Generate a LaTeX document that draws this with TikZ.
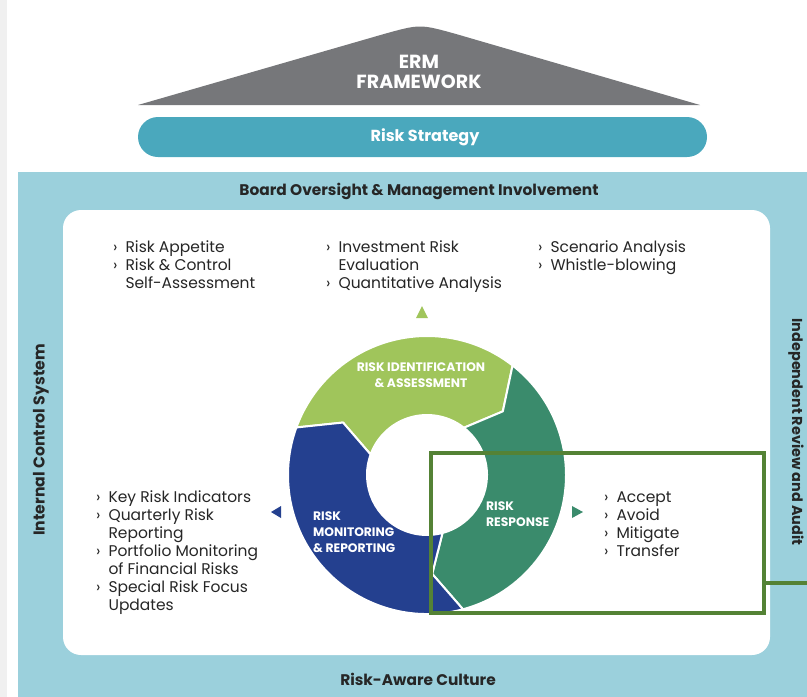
\documentclass[tikz,border=0pt]{standalone}
\usepackage{fontspec}
\setmainfont{Poppins}
\usepackage{tikz}
\usetikzlibrary{positioning, arrows.meta,calc}
\definecolor{roofgray}{HTML}{76777A}
\definecolor{stratteal}{HTML}{4AA8BD}
\definecolor{panelblue}{HTML}{9BD0DC}
\definecolor{ringgreen}{HTML}{A0C55B}
\definecolor{ringteal}{HTML}{3A8B6C}
\definecolor{ringblue}{HTML}{24408F}
\definecolor{boxgreen}{HTML}{548235}
\definecolor{txtdark}{HTML}{262626}
\newcommand{\bul}{›}

\begin{document}
\begin{tikzpicture}[x=1pt, y=-1pt, >=stealth,
		heading/.style={font=\fontsize{15.4}{18}\selectfont\bfseries, text=txtdark, inner sep=0pt},
		listtext/.style={font=\fontsize{15.5}{18}\selectfont, text=txtdark, inner sep=0pt, anchor=north west},
		ringlabel/.style={font=\fontsize{12.3}{16}\selectfont\bfseries, text=white, inner sep=0pt, align=left}]
		
		\useasboundingbox (0,0) rectangle (807,697);
		\fill[black!6] (0,0) rectangle (7,697);
		
		% Draw roof and strategy bar
		\fill[roofgray] (138,105) -- (384,34) .. controls (420,24) .. (456,34) -- (700,105) -- cycle;
		\node[font=\fontsize{19}{20}\selectfont\bfseries, text=white, align=center, inner sep=0pt] (erm) at (419,72) {ERM\\FRAMEWORK};
		\fill[stratteal, rounded corners=20pt] (138,117) rectangle (707,157);
		\node[heading, text=white, font=\fontsize{16}{18}\selectfont\bfseries] (strategy) at (425,137) {Risk Strategy};
		
		% Draw panels
		\fill[panelblue] (18,172) rectangle (807,697);
		\fill[white, rounded corners=18pt] (63,210) rectangle (770,655);
		\node[heading] (board) at (419,191) {Board Oversight \& Management Involvement};
		\node[heading] (culture) at (418,679) {Risk-Aware Culture};
		\node[heading, rotate=90, font=\fontsize{15.7}{18}\selectfont\bfseries] (control) at (41,440) {Internal Control System};
		\node[heading, rotate=-90, font=\fontsize{14.4}{18}\selectfont\bfseries] (review) at (796,432) {Independent Review and Audit};
		
		% Draw cycle
		\begin{scope}[shift={(427,475)}, yscale=-1]
			\foreach \s/\e/\c in {160/52/ringgreen, 52/-75/ringteal, -75/-200/ringblue}
			\filldraw[fill=\c, draw=white, line width=2pt, line join=round]
			(\s:139) arc[start angle=\s, end angle=\e, radius=139]
			-- (\e-12:99) -- (\e:60)
			arc[start angle=\e, end angle=\s, radius=60]
			-- (\s-12:99) -- cycle;
		\end{scope}
		\node[ringlabel, align=center] (ident) at (421,375) {RISK IDENTIFICATION\\\& ASSESSMENT};
		\node[ringlabel, anchor=west] (respond) at (486,514) {RISK\\RESPONSE};
		\node[ringlabel, anchor=west] (monitor) at (313,532) {RISK\\MONITORING\\\& REPORTING};
		
		% Add pointer marks
		\fill[ringgreen] (416,318) -- (428,318) -- (422,306) -- cycle;
		\fill[ringblue] (281,506) -- (281,518) -- (271,512) -- cycle;
		\fill[ringteal] (572,506) -- (572,518) -- (583,512) -- cycle;
		
		% Add lists
		\node[listtext] (appetite) at (113,239.5) {\begin{tabular}{@{}l@{\hspace{8pt}}l@{}}
				\bul & Risk Appetite\\
				\bul & Risk \& Control\\
				& Self-Assessment
		\end{tabular}};
		\node[listtext] (invest) at (326,239.5) {\begin{tabular}{@{}l@{\hspace{8pt}}l@{}}
				\bul & Investment Risk\\
				& Evaluation\\
				\bul & Quantitative Analysis
		\end{tabular}};
		\node[listtext] (scenario) at (538,239.5) {\begin{tabular}{@{}l@{\hspace{8pt}}l@{}}
				\bul & Scenario Analysis\\
				\bul & Whistle-blowing
		\end{tabular}};
		\node[listtext] (indicators) at (96,489.5) {\begin{tabular}{@{}l@{\hspace{8pt}}l@{}}
				\bul & Key Risk Indicators\\
				\bul & Quarterly Risk\\
				& Reporting\\
				\bul & Portfolio Monitoring\\
				& of Financial Risks\\
				\bul & Special Risk Focus\\
				& Updates
		\end{tabular}};
		\node[listtext] (options) at (604,489.5) {\begin{tabular}{@{}l@{\hspace{8pt}}l@{}}
				\bul & Accept\\
				\bul & Avoid\\
				\bul & Mitigate\\
				\bul & Transfer
		\end{tabular}};
		
		% Highlight box
		\node[draw=boxgreen, line width=4pt, minimum width=333pt, minimum height=160pt, inner sep=0pt] (focus) at (597.5,533) {};
		\coordinate (edgeout) at (807,583);
		\draw[boxgreen, line width=4pt] (focus.east |- edgeout) -- (edgeout);
		
	\end{tikzpicture}
\end{document}
